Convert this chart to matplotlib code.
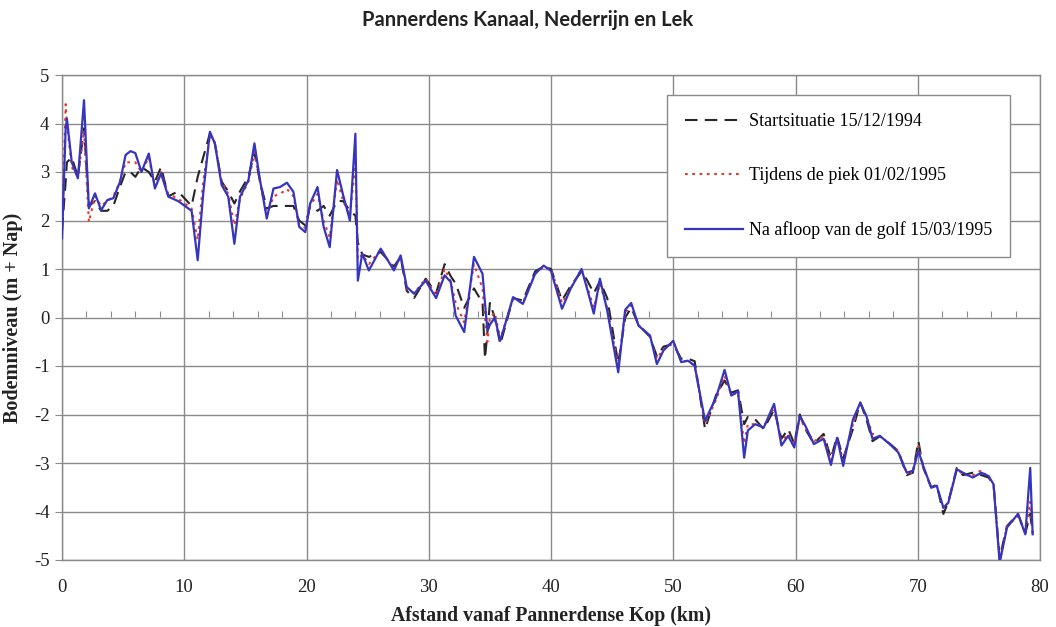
import matplotlib
matplotlib.use("Agg")
import matplotlib.pyplot as plt
from matplotlib.ticker import FixedLocator

plt.rcParams['axes.unicode_minus'] = False

# Distance (km)
km = [0.0, 0.3, 0.4, 0.8, 1.3, 1.8, 2.2, 2.7, 3.2, 3.7, 4.2, 4.75, 5.2, 5.6, 6.0, 6.5, 7.1, 7.6, 8.1, 8.7,
      9.5, 10.6, 11.1, 11.55, 12.1, 12.5, 13.06, 13.6, 14.1, 14.56, 15.25, 15.74, 16.2, 16.75, 17.3, 17.84,
      18.4, 18.93, 19.4, 19.9, 20.3, 20.9, 21.4, 21.9, 22.5, 23.0, 23.55, 24.0, 24.2, 24.56, 25.1, 26.07,
      27.15, 27.7, 28.2, 28.8, 29.75, 30.6, 31.3, 31.8, 32.2, 32.9, 33.7, 34.4, 34.6, 34.8, 35.0, 35.4,
      35.85, 36.9, 37.7, 38.7, 39.4, 40.0, 40.9, 41.6, 42.5, 43.0, 43.5, 44.0, 44.6, 45.5, 46.07, 46.56,
      47.16, 48.1, 48.66, 49.2, 50.0, 50.65, 51.2, 51.75, 52.6, 53.5, 54.2, 54.75, 55.3, 55.8, 56.1, 56.7,
      57.4, 58.25, 58.85, 59.4, 59.9, 60.35, 60.8, 61.5, 62.3, 62.9, 63.4, 63.9, 64.7, 65.3, 65.8, 66.3,
      66.9, 67.7, 68.4, 69.1, 69.6, 70.05, 70.45, 71.1, 71.55, 72.1, 72.5, 73.2, 73.7, 74.5, 75.2, 75.8,
      76.2, 76.7, 77.3, 78.2, 78.8, 79.2, 79.4]

# Na afloop van de golf 15/03/1995
na_afloop = [1.63, 3.9, 4.1, 3.2, 2.87, 4.48, 2.25, 2.56, 2.21, 2.42, 2.46, 2.8, 3.35, 3.43, 3.39, 3.0, 3.38, 2.66, 2.97, 2.49,
             2.4, 2.2, 1.18, 2.55, 3.83, 3.59, 2.73, 2.49, 1.52, 2.49, 2.83, 3.59, 2.83, 2.04, 2.66, 2.69,
             2.78, 2.59, 1.87, 1.76, 2.35, 2.69, 1.87, 1.45, 3.04, 2.52, 2.0, 3.79, 0.76, 1.32, 0.97, 1.42,
             0.97, 1.28, 0.63, 0.49, 0.76, 0.4, 0.87, 0.73, 0.04, -0.3, 1.25, 0.9, 0.3, -0.27, -0.15, 0.0,
             -0.48, 0.42, 0.28, 0.9, 1.07, 0.96, 0.18, 0.59, 1.0, 0.55, 0.08, 0.8, 0.14, -1.13, 0.16, 0.3,
             -0.17, -0.37, -0.96, -0.68, -0.48, -0.92, -0.89, -0.99, -2.13, -1.65, -1.08, -1.61, -1.52, -2.89, -2.33, -2.2,
             -2.27, -1.78, -2.64, -2.44, -2.68, -2.03, -2.23, -2.61, -2.5, -3.04, -2.48, -3.06, -2.1, -1.76, -2.03, -2.5,
             -2.44, -2.61, -2.78, -3.2, -3.16, -2.75, -3.06, -3.51, -3.47, -3.92, -3.82, -3.13, -3.2, -3.3, -3.2, -3.27,
             -3.44, -5.06, -4.33, -4.05, -4.47, -3.1, -4.47]

# Tijdens de piek 01/02/1995
piek = [1.8, 4.4, 4.0, 3.1, 2.9, 3.85, 1.97, 2.5, 2.3, 2.4, 2.5, 2.8, 3.2, 3.2, 3.2, 3.0, 3.3, 2.7, 3.0, 2.55,
        2.45, 2.25, 1.6, 2.8, 3.75, 3.6, 2.8, 2.55, 1.9, 2.45, 2.8, 3.4, 2.8, 2.1, 2.5, 2.55,
        2.65, 2.5, 1.9, 1.85, 2.3, 2.55, 2.0, 1.65, 2.85, 2.4, 2.1, 3.2, 1.2, 1.3, 1.1, 1.4,
        1.0, 1.25, 0.6, 0.5, 0.8, 0.45, 1.0, 0.75, 0.3, -0.1, 1.1, 0.6, 0.0, -0.5, 0.0, 0.1,
        -0.45, 0.4, 0.3, 0.9, 1.05, 1.0, 0.3, 0.6, 1.0, 0.6, 0.2, 0.7, 0.2, -1.0, 0.1, 0.25,
        -0.15, -0.4, -0.85, -0.65, -0.5, -0.9, -0.9, -1.0, -2.2, -1.7, -1.2, -1.6, -1.55, -2.6, -2.2, -2.2,
        -2.25, -1.85, -2.55, -2.4, -2.6, -2.05, -2.3, -2.55, -2.45, -2.95, -2.5, -2.95, -2.2, -1.75, -2.05, -2.4,
        -2.45, -2.6, -2.75, -3.2, -3.2, -2.65, -3.1, -3.5, -3.45, -3.95, -3.8, -3.1, -3.25, -3.25, -3.15, -3.3,
        -3.45, -5.0, -4.3, -4.1, -4.45, -3.8, -4.5]

# Startsituatie 15/12/1994
start = [1.8, 2.8, 3.2, 3.3, 2.9, 3.9, 2.3, 2.4, 2.2, 2.2, 2.3, 2.7, 3.0, 3.0, 2.9, 3.1, 3.0, 2.8, 3.1, 2.5,
         2.6, 2.3, 2.9, 3.3, 3.8, 3.6, 2.8, 2.6, 2.35, 2.6, 2.9, 3.4, 2.8, 2.25, 2.3, 2.3,
         2.3, 2.3, 2.0, 1.9, 2.3, 2.2, 2.3, 2.1, 2.4, 2.4, 2.2, 2.1, 1.55, 1.3, 1.25, 1.35,
         1.05, 1.25, 0.55, 0.4, 0.8, 0.5, 1.1, 0.85, 0.7, 0.2, 0.6, 0.3, -0.85, -0.3, 0.3, 0.0,
         -0.55, 0.4, 0.35, 0.95, 1.05, 1.0, 0.35, 0.65, 0.95, 0.75, 0.5, 0.75, 0.4, -0.95, 0.0, 0.2,
         -0.15, -0.4, -0.8, -0.6, -0.55, -0.85, -0.85, -0.9, -2.3, -1.6, -1.3, -1.55, -1.5, -2.2, -2.05, -2.1,
         -2.3, -1.9, -2.5, -2.3, -2.6, -2.0, -2.3, -2.6, -2.4, -2.9, -2.45, -2.9, -2.3, -1.75, -2.1, -2.55,
         -2.45, -2.6, -2.75, -3.25, -3.2, -2.55, -3.1, -3.5, -3.45, -4.05, -3.8, -3.1, -3.25, -3.2, -3.25, -3.3,
         -3.45, -4.95, -4.3, -4.05, -4.45, -4.05, -4.45]

labels = ["Startsituatie 15/12/1994", "Tijdens de piek 01/02/1995", "Na afloop van de golf 15/03/1995"]
x_ticks = [0, 10, 20, 30, 40, 50, 60, 70, 80]
y_ticks = [-5, -4, -3, -2, -1, 0, 1, 2, 3, 4, 5]

serif = ['Liberation Serif', 'DejaVu Serif']

fig = plt.figure(figsize=(10.56, 6.27), dpi=100)
ax = fig.add_axes([62/1056, 1-560/627, (1040-62)/1056, (560-75)/627])

ax.plot(km, start, color='#262626', lw=1.5, dashes=(6, 3.5), label=labels[0], zorder=3)
ax.plot(km, piek, color='#e8392c', lw=1.5, dashes=(1.3, 2.2), label=labels[1], zorder=4)
ax.plot(km, na_afloop, color='#3535c0', lw=1.6, label=labels[2], zorder=5)

ax.set_xlim(0, 80)
ax.set_ylim(-5, 5)
ax.set_xticks(x_ticks)
ax.set_yticks(y_ticks)
ax.set_xticklabels([str(v) for v in x_ticks], fontfamily=serif, fontsize=13.5)
ax.set_yticklabels([str(v) for v in y_ticks], fontfamily=serif, fontsize=13.5)
ax.tick_params(axis='x', length=0, pad=14, colors='#222222')
ax.tick_params(axis='y', length=5, direction='out', pad=4, colors='#222222')
ax.tick_params(axis='y', color='#8a8a8a')
ax.grid(True, color='#8a8a8a', lw=1.0)
ax.set_axisbelow(True)
for s in ax.spines.values():
    s.set_color('#8a8a8a')
    s.set_linewidth(1.0)

# category axis crossing at y = 0 with minor tick marks
sec = ax.secondary_xaxis(0.5)
sec.xaxis.set_major_locator(FixedLocator(list(range(0, 81, 2))))
sec.set_xticklabels([])
sec.tick_params(length=4, direction='out', color='#8a8a8a')
for s in sec.spines.values():
    s.set_visible(False)

leg = ax.legend(loc='upper left', bbox_to_anchor=(0.619, 0.959), prop={'family': serif, 'size': 13},
                frameon=True, fancybox=False, edgecolor='#8a8a8a', framealpha=1.0,
                labelspacing=2.05, handlelength=3.2, handletextpad=0.3, borderpad=1.0, borderaxespad=0)
leg.get_frame().set_linewidth(1.0)
leg.set_zorder(10)

ax.set_xlabel("Afstand vanaf Pannerdense Kop (km)", fontfamily=serif, fontsize=14.2, fontweight='bold',
              labelpad=7, color='#222222')
ax.set_ylabel("Bodemniveau (m + Nap)", fontfamily=serif, fontsize=14.5, fontweight='bold',
              labelpad=8, color='#222222')
fig.text(0.5, 1-20/627, "Pannerdens Kanaal, Nederrijn en Lek", ha='center', va='center',
         fontfamily=['Lato', 'DejaVu Sans'], fontweight='bold', fontsize=14.5, color='#222222')

fig.savefig("out.png", dpi=100, facecolor='white')
